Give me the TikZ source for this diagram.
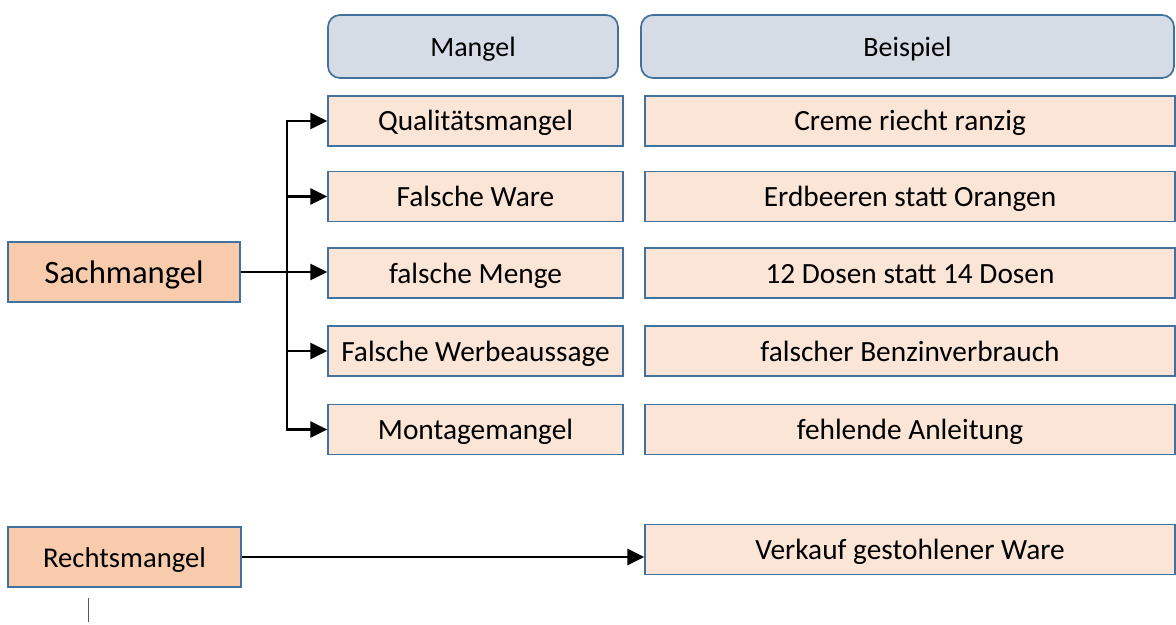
\documentclass[tikz,border=0pt]{standalone}
\usepackage{fontspec}
\setmainfont{Carlito}
\usetikzlibrary{arrows.meta}
\definecolor{bordc}{HTML}{41719C}
\definecolor{headfill}{HTML}{D6DCE5}
\definecolor{rowfill}{HTML}{FBE5D6}
\definecolor{mainfill}{HTML}{F8CBAD}
\tikzset{
  headbox/.style={draw=bordc, fill=headfill, line width=1.3pt, rounded corners=9pt, minimum height=47.25pt, font=\fontsize{21}{24}\selectfont, inner sep=0pt, text height=16pt, text depth=1pt},
  rowbox/.style={draw=bordc, fill=rowfill, line width=1.3pt, minimum height=37.5pt, font=\fontsize{22}{26}\selectfont, inner sep=0pt, text height=17pt, text depth=2pt},
  mainbox/.style={draw=bordc, fill=mainfill, line width=1.3pt, minimum height=45pt, inner sep=0pt},
  tip/.style={Triangle[length=12.5pt,width=12pt]},
  arr/.style={line width=1.6pt, -{Triangle[length=12.5pt,width=12pt]}},
  arrboth/.style={line width=1.6pt, {Triangle[length=12.5pt,width=12pt]}-{Triangle[length=12.5pt,width=12pt]}}
}
\begin{document}
\begin{tikzpicture}[x=0.75pt,y=-0.75pt]
\useasboundingbox[fill=white] (0,0) rectangle (1176,624);
% headers
\node[headbox, minimum width=217.5pt] (hM) at (473,46.5) {Mangel};
\node[headbox, minimum width=399.75pt] (hB) at (907.5,46.5) {Beispiel};
% Mangel column
\node[rowbox, minimum width=221.25pt] (m1) at (475.5,121) {Qualitätsmangel};
\node[rowbox, minimum width=221.25pt] (m2) at (475.5,196.5) {Falsche Ware};
\node[rowbox, minimum width=221.25pt] (m3) at (475.5,273) {falsche Menge};
\node[rowbox, minimum width=221.25pt] (m4) at (475.5,351) {Falsche Werbeaussage};
\node[rowbox, minimum width=221.25pt] (m5) at (475.5,429.5) {Montagemangel};
% Beispiel column
\node[rowbox, minimum width=397.5pt] (b1) at (910,121) {Creme riecht ranzig};
\node[rowbox, minimum width=397.5pt] (b2) at (910,196.5) {Erdbeeren statt Orangen};
\node[rowbox, minimum width=397.5pt] (b3) at (910,273) {12 Dosen statt 14 Dosen};
\node[rowbox, minimum width=397.5pt] (b4) at (910,351) {falscher Benzinverbrauch};
\node[rowbox, minimum width=397.5pt] (b5) at (910,429.5) {fehlende Anleitung};
\node[rowbox, minimum width=397.5pt] (b6) at (910,549.5) {Verkauf gestohlener Ware};
% left boxes
\node[mainbox, minimum width=174pt, font=\fontsize{24.5}{28}\selectfont, text height=18pt, text depth=1.5pt] (sach) at (124,272) {Sachmangel};
\node[mainbox, minimum width=174.75pt, font=\fontsize{21.5}{26}\selectfont, text height=16pt, text depth=1pt] (recht) at (124.5,557) {Rechtsmangel};
% connectors
\coordinate (bus) at (287,0);
\draw[arrboth] (m1.west) -- (m1.west -| bus) -- (m5.west -| bus) -- (m5.west);
\draw[arr] (m2.west -| bus) -- (m2.west);
\draw[arr] (m4.west -| bus) -- (m4.west);
\draw[arr] (sach.east) -- (m3.west |- sach.east);
\draw[arr] (recht.east) -- (b6.west |- recht.east);
% cursor mark
\coordinate (cur) at (88,598);
\draw[gray!70!black, line width=0.6pt] (cur) -- ++(0,24);
\end{tikzpicture}
\end{document}
